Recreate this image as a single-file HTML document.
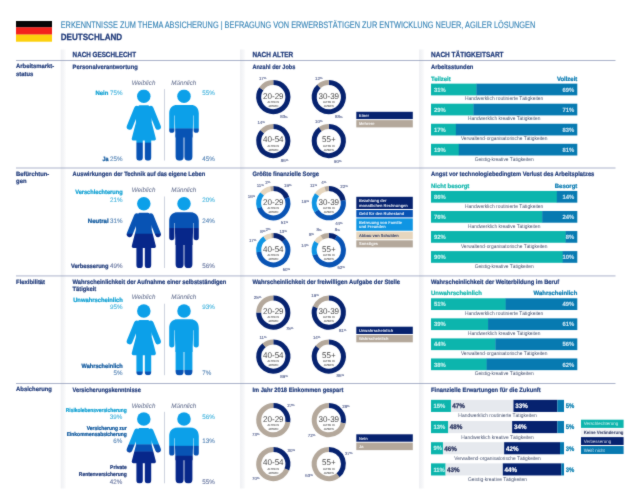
<!DOCTYPE html>
<html lang="de"><head><meta charset="utf-8"><title>Erkenntnisse zum Thema Absicherung – Deutschland</title>
<style>
html,body{margin:0;padding:0;background:#fff;}
body{width:630px;height:503px;overflow:hidden;}
svg{display:block;font-family:"Liberation Sans",sans-serif;text-rendering:geometricPrecision;}
</style></head><body>
<svg width="630" height="503" viewBox="0 0 630 503">
<defs>
<filter id="soft" x="0" y="0" width="630" height="503" filterUnits="userSpaceOnUse" color-interpolation-filters="sRGB"><feConvolveMatrix order="3" kernelMatrix="0.02 0.075 0.02 0.075 0.62 0.075 0.02 0.075 0.02" divisor="1" edgeMode="duplicate" preserveAlpha="true"/></filter>
<linearGradient id="vg" x1="0" x2="1" y1="0" y2="0"><stop offset="0" stop-color="#ffffff"/><stop offset="0.12" stop-color="#f0f1f4"/><stop offset="0.5" stop-color="#f4f5f7"/><stop offset="0.85" stop-color="#fbfbfc"/><stop offset="1" stop-color="#ffffff"/></linearGradient>
<mask id="mf" maskUnits="userSpaceOnUse" x="-20" y="-2" width="40" height="75">
 <g fill="#fff" stroke="#fff" stroke-linecap="round" stroke-linejoin="round">
  <circle cx="0" cy="6.75" r="6.75" stroke="none"/>
  <path d="M-4 17.4 L4 17.4 L6.2 24 L6.2 33 L10.4 49.3 L-10.4 49.3 L-6.2 33 L-6.2 24 Z" stroke-width="3.4"/>
  <path d="M-6.9 19.2 L-14.2 37.2 M6.9 19.2 L14.2 37.2" stroke-width="5.8" fill="none"/>
  <path d="M-4.2 50 L-4.2 67.9 M4.2 50 L4.2 67.9" stroke-width="6.4" fill="none"/>
 </g>
</mask>
<mask id="mm" maskUnits="userSpaceOnUse" x="-20" y="-2" width="40" height="75">
 <g fill="#fff" stroke="#fff" stroke-linecap="round" stroke-linejoin="round">
  <circle cx="0" cy="6.75" r="6.75" stroke="none"/>
  <path d="M-6.5 15.4 L6.5 15.4 C12 15.4 14.8 18.6 14.8 24 L14.8 40.6 A2.6 2.6 0 0 1 9.6 40.6 L9.6 26 L-9.6 26 L-9.6 40.6 A2.6 2.6 0 0 1 -14.8 40.6 L-14.8 24 C-14.8 18.6 -12 15.4 -6.5 15.4 Z" stroke="none"/>
  <path d="M-9.25 15.4 L9.25 15.4 L9.25 29 L8.5 47.9 L-8.5 47.9 L-9.25 29 Z" stroke="none"/>
  <path d="M-4.4 46 L-4.4 67.2 M4.4 46 L4.4 67.2" stroke-width="8.0" fill="none"/>
 </g>
 
</mask>
</defs>
<g filter="url(#soft)">
<rect x="0" y="0" width="630" height="503" fill="#ffffff"/>
<rect x="16.00" y="21.00" width="36.00" height="6.50" fill="#060606"/>
<rect x="16.00" y="27.30" width="36.00" height="7.40" fill="#f3221c"/>
<rect x="16.00" y="34.60" width="36.00" height="7.10" fill="#fdd00c"/>
<text x="60.70" y="28.30" font-size="9.30" fill="#3684b6" textLength="474.60" lengthAdjust="spacingAndGlyphs" stroke="#3684b6" stroke-width="0.12">ERKENNTNISSE ZUM THEMA ABSICHERUNG | BEFRAGUNG VON ERWERBSTÄTIGEN ZUR ENTWICKLUNG NEUER, AGILER LÖSUNGEN</text>
<text x="60.70" y="40.30" font-size="9.00" fill="#1f3a7a" font-weight="bold" textLength="61.50" lengthAdjust="spacingAndGlyphs" stroke="#1f3a7a" stroke-width="0.25">DEUTSCHLAND</text>
<rect x="60.2" y="49.5" width="6" height="439" fill="url(#vg)"/>
<rect x="239.7" y="49.5" width="6" height="439" fill="url(#vg)"/>
<rect x="418.8" y="49.5" width="6" height="439" fill="url(#vg)"/>
<rect x="16.00" y="60.01" width="599.50" height="0.68" fill="#8490b2"/>
<rect x="16.00" y="167.66" width="599.50" height="0.68" fill="#8490b2"/>
<rect x="16.00" y="275.61" width="599.50" height="0.68" fill="#8490b2"/>
<rect x="16.00" y="383.16" width="599.50" height="0.68" fill="#8490b2"/>
<text x="72.60" y="57.10" font-size="7.40" fill="#1f3a7a" font-weight="bold" textLength="63.40" lengthAdjust="spacingAndGlyphs" stroke="#1f3a7a" stroke-width="0.25">NACH GESCHLECHT</text>
<text x="252.40" y="57.10" font-size="7.40" fill="#1f3a7a" font-weight="bold" textLength="40.80" lengthAdjust="spacingAndGlyphs" stroke="#1f3a7a" stroke-width="0.25">NACH ALTER</text>
<text x="431.00" y="57.10" font-size="7.40" fill="#1f3a7a" font-weight="bold" textLength="72.60" lengthAdjust="spacingAndGlyphs" stroke="#1f3a7a" stroke-width="0.25">NACH TÄTIGKEITSART</text>
<text x="16.10" y="68.40" font-size="6.10" fill="#1f3a7a" font-weight="bold" textLength="38.10" lengthAdjust="spacingAndGlyphs" stroke="#1f3a7a" stroke-width="0.2">Arbeitsmarkt-</text>
<text x="16.10" y="75.60" font-size="6.10" fill="#1f3a7a" font-weight="bold" textLength="17.26" lengthAdjust="spacingAndGlyphs" stroke="#1f3a7a" stroke-width="0.2">status</text>
<text x="16.10" y="176.00" font-size="6.10" fill="#1f3a7a" font-weight="bold" textLength="33.20" lengthAdjust="spacingAndGlyphs" stroke="#1f3a7a" stroke-width="0.2">Befürchtun-</text>
<text x="16.10" y="183.20" font-size="6.10" fill="#1f3a7a" font-weight="bold" textLength="10.42" lengthAdjust="spacingAndGlyphs" stroke="#1f3a7a" stroke-width="0.2">gen</text>
<text x="16.10" y="283.60" font-size="6.10" fill="#1f3a7a" font-weight="bold" textLength="28.98" lengthAdjust="spacingAndGlyphs" stroke="#1f3a7a" stroke-width="0.2">Flexibilität</text>
<text x="16.10" y="391.30" font-size="6.10" fill="#1f3a7a" font-weight="bold" textLength="35.82" lengthAdjust="spacingAndGlyphs" stroke="#1f3a7a" stroke-width="0.2">Absicherung</text>
<text x="72.60" y="68.90" font-size="6.30" fill="#1f3a7a" font-weight="bold" textLength="65.20" lengthAdjust="spacingAndGlyphs" stroke="#1f3a7a" stroke-width="0.2">Personalverantwortung</text>
<text x="252.40" y="68.90" font-size="6.30" fill="#1f3a7a" font-weight="bold" textLength="42.90" lengthAdjust="spacingAndGlyphs" stroke="#1f3a7a" stroke-width="0.2">Anzahl der Jobs</text>
<text x="431.00" y="68.90" font-size="6.30" fill="#1f3a7a" font-weight="bold" textLength="42.40" lengthAdjust="spacingAndGlyphs" stroke="#1f3a7a" stroke-width="0.2">Arbeitsstunden</text>
<text x="72.60" y="176.30" font-size="6.30" fill="#1f3a7a" font-weight="bold" textLength="132.60" lengthAdjust="spacingAndGlyphs" stroke="#1f3a7a" stroke-width="0.2">Auswirkungen der Technik auf das eigene Leben</text>
<text x="252.40" y="176.30" font-size="6.30" fill="#1f3a7a" font-weight="bold" textLength="66.60" lengthAdjust="spacingAndGlyphs" stroke="#1f3a7a" stroke-width="0.2">Größte finanzielle Sorge</text>
<text x="431.00" y="176.30" font-size="6.30" fill="#1f3a7a" font-weight="bold" textLength="163.30" lengthAdjust="spacingAndGlyphs" stroke="#1f3a7a" stroke-width="0.2">Angst vor technologiebedingtem Verlust des Arbeitsplatzes</text>
<text x="72.60" y="283.80" font-size="6.30" fill="#1f3a7a" font-weight="bold" textLength="153.75" lengthAdjust="spacingAndGlyphs" stroke="#1f3a7a" stroke-width="0.2">Wahrscheinlichkeit der Aufnahme einer selbstständigen</text>
<text x="72.60" y="290.90" font-size="6.30" fill="#1f3a7a" font-weight="bold" textLength="23.70" lengthAdjust="spacingAndGlyphs" stroke="#1f3a7a" stroke-width="0.2">Tätigkeit</text>
<text x="252.40" y="283.80" font-size="6.30" fill="#1f3a7a" font-weight="bold" textLength="147.60" lengthAdjust="spacingAndGlyphs" stroke="#1f3a7a" stroke-width="0.2">Wahrscheinlichkeit der freiwilligen Aufgabe der Stelle</text>
<text x="431.00" y="283.80" font-size="6.30" fill="#1f3a7a" font-weight="bold" textLength="128.30" lengthAdjust="spacingAndGlyphs" stroke="#1f3a7a" stroke-width="0.2">Wahrscheinlichkeit der Weiterbildung im Beruf</text>
<text x="72.60" y="392.00" font-size="6.30" fill="#1f3a7a" font-weight="bold" textLength="68.20" lengthAdjust="spacingAndGlyphs" stroke="#1f3a7a" stroke-width="0.2">Versicherungskenntnisse</text>
<text x="252.40" y="392.00" font-size="6.30" fill="#1f3a7a" font-weight="bold" textLength="90.90" lengthAdjust="spacingAndGlyphs" stroke="#1f3a7a" stroke-width="0.2">Im Jahr 2018 Einkommen gespart</text>
<text x="431.00" y="392.00" font-size="6.30" fill="#1f3a7a" font-weight="bold" textLength="109.70" lengthAdjust="spacingAndGlyphs" stroke="#1f3a7a" stroke-width="0.2">Finanzielle Erwartungen für die Zukunft</text>
<text x="143.60" y="85.30" font-size="6.60" fill="#5a6688" font-style="italic" text-anchor="middle" textLength="23.58" lengthAdjust="spacingAndGlyphs">Weiblich</text>
<text x="183.80" y="85.30" font-size="6.60" fill="#5a6688" font-style="italic" text-anchor="middle" textLength="25.09" lengthAdjust="spacingAndGlyphs">Männlich</text>
<rect x="164.20" y="89.10" width="0.70" height="71.50" fill="#b9c0d2"/>
<g transform="translate(143.80,89.60)">
<g mask="url(#mf)">
<rect x="-18" y="-0.20" width="36" height="53.65" fill="#0ca0e9"/>
<rect x="-18" y="53.05" width="36" height="18.15" fill="#0853b4"/>
</g></g>
<g transform="translate(184.00,89.60)">
<g mask="url(#mm)">
<rect x="-18" y="-0.20" width="36" height="39.45" fill="#0ca0e9"/>
<rect x="-18" y="38.85" width="36" height="32.35" fill="#0853b4"/>
</g></g>
<text x="143.60" y="192.40" font-size="6.60" fill="#5a6688" font-style="italic" text-anchor="middle" textLength="23.58" lengthAdjust="spacingAndGlyphs">Weiblich</text>
<text x="183.80" y="192.40" font-size="6.60" fill="#5a6688" font-style="italic" text-anchor="middle" textLength="25.09" lengthAdjust="spacingAndGlyphs">Männlich</text>
<rect x="164.20" y="196.50" width="0.70" height="71.50" fill="#b9c0d2"/>
<g transform="translate(143.80,197.00)">
<g mask="url(#mf)">
<rect x="-18" y="-0.20" width="36" height="15.31" fill="#0ca0e9"/>
<rect x="-18" y="14.71" width="36" height="22.41" fill="#0853b4"/>
<rect x="-18" y="36.72" width="36" height="34.48" fill="#07278a"/>
</g></g>
<g transform="translate(184.00,197.00)">
<g mask="url(#mm)">
<rect x="-18" y="-0.20" width="36" height="14.60" fill="#0ca0e9"/>
<rect x="-18" y="14.00" width="36" height="17.44" fill="#0853b4"/>
<rect x="-18" y="31.04" width="36" height="40.16" fill="#07278a"/>
</g></g>
<text x="143.60" y="298.60" font-size="6.60" fill="#5a6688" font-style="italic" text-anchor="middle" textLength="23.58" lengthAdjust="spacingAndGlyphs">Weiblich</text>
<text x="183.80" y="298.60" font-size="6.60" fill="#5a6688" font-style="italic" text-anchor="middle" textLength="25.09" lengthAdjust="spacingAndGlyphs">Männlich</text>
<rect x="164.20" y="303.70" width="0.70" height="71.50" fill="#b9c0d2"/>
<g transform="translate(143.80,304.20)">
<g mask="url(#mf)">
<rect x="-18" y="-0.20" width="36" height="67.85" fill="#0ca0e9"/>
<rect x="-18" y="67.25" width="36" height="3.95" fill="#0853b4"/>
</g></g>
<g transform="translate(184.00,304.20)">
<g mask="url(#mm)">
<rect x="-18" y="-0.20" width="36" height="66.43" fill="#0ca0e9"/>
<rect x="-18" y="65.83" width="36" height="5.37" fill="#0853b4"/>
</g></g>
<text x="143.60" y="407.90" font-size="6.60" fill="#5a6688" font-style="italic" text-anchor="middle" textLength="23.58" lengthAdjust="spacingAndGlyphs">Weiblich</text>
<text x="183.80" y="407.90" font-size="6.60" fill="#5a6688" font-style="italic" text-anchor="middle" textLength="25.09" lengthAdjust="spacingAndGlyphs">Männlich</text>
<rect x="164.20" y="411.80" width="0.70" height="71.50" fill="#b9c0d2"/>
<g transform="translate(143.80,412.30)">
<g mask="url(#mf)">
<rect x="-18" y="-0.20" width="36" height="32.70" fill="#0ca0e9"/>
<rect x="-18" y="32.10" width="36" height="7.50" fill="#0853b4"/>
<rect x="-18" y="39.20" width="36" height="31.99" fill="#07278a"/>
</g></g>
<g transform="translate(184.00,412.30)">
<g mask="url(#mm)">
<rect x="-18" y="-0.20" width="36" height="34.12" fill="#0ca0e9"/>
<rect x="-18" y="33.52" width="36" height="10.34" fill="#0853b4"/>
<rect x="-18" y="43.46" width="36" height="27.73" fill="#07278a"/>
</g></g>
<text x="108.40" y="94.80" font-size="6.10" fill="#0c9fd2" font-weight="bold" text-anchor="end" textLength="12.90" lengthAdjust="spacingAndGlyphs" stroke="#0c9fd2" stroke-width="0.24">Nein</text>
<text x="122.50" y="94.75" font-size="6.40" fill="#42b3dd" text-anchor="end" textLength="12.51" lengthAdjust="spacingAndGlyphs" stroke="#42b3dd" stroke-width="0.1">75%</text>
<text x="202.20" y="94.75" font-size="6.40" fill="#42b3dd" textLength="12.51" lengthAdjust="spacingAndGlyphs" stroke="#42b3dd" stroke-width="0.1">55%</text>
<text x="108.40" y="160.80" font-size="6.10" fill="#0a559c" font-weight="bold" text-anchor="end" textLength="6.00" lengthAdjust="spacingAndGlyphs" stroke="#0a559c" stroke-width="0.24">Ja</text>
<text x="122.50" y="160.75" font-size="6.40" fill="#5685b6" text-anchor="end" textLength="12.51" lengthAdjust="spacingAndGlyphs" stroke="#5685b6" stroke-width="0.1">25%</text>
<text x="202.20" y="160.75" font-size="6.40" fill="#5685b6" textLength="12.51" lengthAdjust="spacingAndGlyphs" stroke="#5685b6" stroke-width="0.1">45%</text>
<text x="122.60" y="194.40" font-size="6.10" fill="#0c9fd2" font-weight="bold" text-anchor="end" textLength="47.40" lengthAdjust="spacingAndGlyphs" stroke="#0c9fd2" stroke-width="0.24">Verschlechterung</text>
<text x="122.50" y="201.95" font-size="6.40" fill="#42b3dd" text-anchor="end" textLength="12.51" lengthAdjust="spacingAndGlyphs" stroke="#42b3dd" stroke-width="0.1">21%</text>
<text x="202.20" y="201.95" font-size="6.40" fill="#42b3dd" textLength="12.51" lengthAdjust="spacingAndGlyphs" stroke="#42b3dd" stroke-width="0.1">20%</text>
<text x="108.60" y="223.00" font-size="6.10" fill="#0a559c" font-weight="bold" text-anchor="end" textLength="20.80" lengthAdjust="spacingAndGlyphs" stroke="#0a559c" stroke-width="0.24">Neutral</text>
<text x="122.50" y="222.95" font-size="6.40" fill="#5685b6" text-anchor="end" textLength="12.51" lengthAdjust="spacingAndGlyphs" stroke="#5685b6" stroke-width="0.1">31%</text>
<text x="202.20" y="222.95" font-size="6.40" fill="#5685b6" textLength="12.51" lengthAdjust="spacingAndGlyphs" stroke="#5685b6" stroke-width="0.1">24%</text>
<text x="108.60" y="268.10" font-size="6.10" fill="#1f3a7a" font-weight="bold" text-anchor="end" textLength="37.70" lengthAdjust="spacingAndGlyphs" stroke="#1f3a7a" stroke-width="0.24">Verbesserung</text>
<text x="122.50" y="268.05" font-size="6.40" fill="#66759f" text-anchor="end" textLength="12.51" lengthAdjust="spacingAndGlyphs" stroke="#66759f" stroke-width="0.1">49%</text>
<text x="202.20" y="268.05" font-size="6.40" fill="#66759f" textLength="12.51" lengthAdjust="spacingAndGlyphs" stroke="#66759f" stroke-width="0.1">56%</text>
<text x="122.80" y="302.10" font-size="6.10" fill="#0c9fd2" font-weight="bold" text-anchor="end" textLength="49.60" lengthAdjust="spacingAndGlyphs" stroke="#0c9fd2" stroke-width="0.24">Unwahrscheinlich</text>
<text x="122.50" y="308.95" font-size="6.40" fill="#42b3dd" text-anchor="end" textLength="12.51" lengthAdjust="spacingAndGlyphs" stroke="#42b3dd" stroke-width="0.1">95%</text>
<text x="202.20" y="308.95" font-size="6.40" fill="#42b3dd" textLength="12.51" lengthAdjust="spacingAndGlyphs" stroke="#42b3dd" stroke-width="0.1">93%</text>
<text x="122.80" y="368.20" font-size="6.10" fill="#0a559c" font-weight="bold" text-anchor="end" textLength="41.20" lengthAdjust="spacingAndGlyphs" stroke="#0a559c" stroke-width="0.24">Wahrscheinlich</text>
<text x="122.50" y="374.75" font-size="6.40" fill="#5685b6" text-anchor="end" textLength="9.03" lengthAdjust="spacingAndGlyphs" stroke="#5685b6" stroke-width="0.1">5%</text>
<text x="202.20" y="374.75" font-size="6.40" fill="#5685b6" textLength="9.03" lengthAdjust="spacingAndGlyphs" stroke="#5685b6" stroke-width="0.1">7%</text>
<text x="126.80" y="411.90" font-size="5.60" fill="#0c9fd2" font-weight="bold" text-anchor="end" textLength="61.00" lengthAdjust="spacingAndGlyphs" stroke="#0c9fd2" stroke-width="0.24">Risikolebensversicherung</text>
<text x="122.30" y="418.65" font-size="6.40" fill="#42b3dd" text-anchor="end" textLength="12.51" lengthAdjust="spacingAndGlyphs" stroke="#42b3dd" stroke-width="0.1">39%</text>
<text x="202.20" y="418.65" font-size="6.40" fill="#42b3dd" textLength="12.51" lengthAdjust="spacingAndGlyphs" stroke="#42b3dd" stroke-width="0.1">56%</text>
<text x="126.80" y="429.50" font-size="5.60" fill="#0a559c" font-weight="bold" text-anchor="end" textLength="40.10" lengthAdjust="spacingAndGlyphs" stroke="#0a559c" stroke-width="0.24">Versicherung zur</text>
<text x="126.80" y="435.90" font-size="5.60" fill="#0a559c" font-weight="bold" text-anchor="end" textLength="60.10" lengthAdjust="spacingAndGlyphs" stroke="#0a559c" stroke-width="0.24">Einkommensabsicherung</text>
<text x="122.30" y="442.65" font-size="6.40" fill="#5685b6" text-anchor="end" textLength="9.03" lengthAdjust="spacingAndGlyphs" stroke="#5685b6" stroke-width="0.1">6%</text>
<text x="202.20" y="442.65" font-size="6.40" fill="#5685b6" textLength="12.51" lengthAdjust="spacingAndGlyphs" stroke="#5685b6" stroke-width="0.1">13%</text>
<text x="126.80" y="469.20" font-size="5.60" fill="#1f3a7a" font-weight="bold" text-anchor="end" textLength="16.70" lengthAdjust="spacingAndGlyphs" stroke="#1f3a7a" stroke-width="0.24">Private</text>
<text x="126.80" y="475.60" font-size="5.60" fill="#1f3a7a" font-weight="bold" text-anchor="end" textLength="48.00" lengthAdjust="spacingAndGlyphs" stroke="#1f3a7a" stroke-width="0.24">Rentenversicherung</text>
<text x="122.30" y="483.95" font-size="6.40" fill="#66759f" text-anchor="end" textLength="12.51" lengthAdjust="spacingAndGlyphs" stroke="#66759f" stroke-width="0.1">42%</text>
<text x="202.20" y="483.95" font-size="6.40" fill="#66759f" textLength="12.51" lengthAdjust="spacingAndGlyphs" stroke="#66759f" stroke-width="0.1">55%</text>
<path d="M273.30 82.50A14.60 14.60 0 1 1 261.33 88.74" fill="none" stroke="#06226f" stroke-width="5.00"/>
<path d="M261.22 88.89A14.60 14.60 0 0 1 273.30 82.50" fill="none" stroke="#b4a89b" stroke-width="5.00"/>
<text x="273.30" y="98.50" font-size="8.30" fill="#474747" text-anchor="middle" textLength="20.60" lengthAdjust="spacingAndGlyphs">20-29</text>
<text x="273.30" y="102.90" font-size="2.90" fill="#4c4c4c" text-anchor="middle" textLength="11.40" lengthAdjust="spacingAndGlyphs" stroke="#4c4c4c" stroke-width="0.06">ALTER IN</text>
<text x="273.30" y="106.60" font-size="2.90" fill="#4c4c4c" text-anchor="middle" textLength="10.00" lengthAdjust="spacingAndGlyphs" stroke="#4c4c4c" stroke-width="0.06">JAHREN</text>
<text x="258.93" y="79.80" font-size="4.4" fill="#505d8c" stroke="#505d8c" stroke-width="0.1">17<tspan font-size="2.9" dy="-0.9">%</tspan></text>
<text x="280.23" y="118.40" font-size="4.4" fill="#505d8c" stroke="#505d8c" stroke-width="0.1">83<tspan font-size="2.9" dy="-0.9">%</tspan></text>
<path d="M328.80 82.50A14.60 14.60 0 1 1 318.94 86.33" fill="none" stroke="#06226f" stroke-width="5.00"/>
<path d="M318.81 86.46A14.60 14.60 0 0 1 328.80 82.50" fill="none" stroke="#b4a89b" stroke-width="5.00"/>
<text x="328.80" y="98.50" font-size="8.30" fill="#474747" text-anchor="middle" textLength="20.60" lengthAdjust="spacingAndGlyphs">30-39</text>
<text x="328.80" y="102.90" font-size="2.90" fill="#4c4c4c" text-anchor="middle" textLength="11.40" lengthAdjust="spacingAndGlyphs" stroke="#4c4c4c" stroke-width="0.06">ALTER IN</text>
<text x="328.80" y="106.60" font-size="2.90" fill="#4c4c4c" text-anchor="middle" textLength="10.00" lengthAdjust="spacingAndGlyphs" stroke="#4c4c4c" stroke-width="0.06">JAHREN</text>
<text x="315.03" y="79.50" font-size="4.4" fill="#505d8c" stroke="#505d8c" stroke-width="0.1">12<tspan font-size="2.9" dy="-0.9">%</tspan></text>
<text x="335.03" y="118.40" font-size="4.4" fill="#505d8c" stroke="#505d8c" stroke-width="0.1">88<tspan font-size="2.9" dy="-0.9">%</tspan></text>
<path d="M273.30 126.40A14.60 14.60 0 1 1 262.17 131.55" fill="none" stroke="#06226f" stroke-width="5.00"/>
<path d="M262.05 131.69A14.60 14.60 0 0 1 273.30 126.40" fill="none" stroke="#b4a89b" stroke-width="5.00"/>
<text x="273.30" y="142.40" font-size="8.30" fill="#474747" text-anchor="middle" textLength="20.60" lengthAdjust="spacingAndGlyphs">40-54</text>
<text x="273.30" y="146.80" font-size="2.90" fill="#4c4c4c" text-anchor="middle" textLength="11.40" lengthAdjust="spacingAndGlyphs" stroke="#4c4c4c" stroke-width="0.06">ALTER IN</text>
<text x="273.30" y="150.50" font-size="2.90" fill="#4c4c4c" text-anchor="middle" textLength="10.00" lengthAdjust="spacingAndGlyphs" stroke="#4c4c4c" stroke-width="0.06">JAHREN</text>
<text x="257.43" y="123.50" font-size="4.4" fill="#505d8c" stroke="#505d8c" stroke-width="0.1">14<tspan font-size="2.9" dy="-0.9">%</tspan></text>
<text x="280.83" y="162.20" font-size="4.4" fill="#505d8c" stroke="#505d8c" stroke-width="0.1">86<tspan font-size="2.9" dy="-0.9">%</tspan></text>
<path d="M328.80 126.40A14.60 14.60 0 1 1 320.37 129.08" fill="none" stroke="#06226f" stroke-width="5.00"/>
<path d="M320.22 129.19A14.60 14.60 0 0 1 328.80 126.40" fill="none" stroke="#b4a89b" stroke-width="5.00"/>
<text x="328.80" y="142.40" font-size="8.30" fill="#474747" text-anchor="middle" textLength="13.60" lengthAdjust="spacingAndGlyphs">55+</text>
<text x="328.80" y="146.80" font-size="2.90" fill="#4c4c4c" text-anchor="middle" textLength="11.40" lengthAdjust="spacingAndGlyphs" stroke="#4c4c4c" stroke-width="0.06">ALTER IN</text>
<text x="328.80" y="150.50" font-size="2.90" fill="#4c4c4c" text-anchor="middle" textLength="10.00" lengthAdjust="spacingAndGlyphs" stroke="#4c4c4c" stroke-width="0.06">JAHREN</text>
<text x="315.03" y="122.70" font-size="4.4" fill="#505d8c" stroke="#505d8c" stroke-width="0.1">10<tspan font-size="2.9" dy="-0.9">%</tspan></text>
<text x="334.03" y="162.50" font-size="4.4" fill="#505d8c" stroke="#505d8c" stroke-width="0.1">90<tspan font-size="2.9" dy="-0.9">%</tspan></text>
<path d="M273.30 188.60A14.60 14.60 0 0 1 286.94 198.00" fill="none" stroke="#06226f" stroke-width="5.00"/>
<path d="M286.87 197.83A14.60 14.60 0 1 1 259.36 207.54" fill="none" stroke="#0853b4" stroke-width="5.00"/>
<path d="M259.41 207.71A14.60 14.60 0 0 1 262.17 193.75" fill="none" stroke="#0f95e3" stroke-width="5.00"/>
<path d="M262.05 193.89A14.60 14.60 0 0 1 270.74 188.83" fill="none" stroke="#e6d6be" stroke-width="5.00"/>
<path d="M270.56 188.86A14.60 14.60 0 0 1 273.30 188.60" fill="none" stroke="#b4a89b" stroke-width="5.00"/>
<text x="273.30" y="204.60" font-size="8.30" fill="#474747" text-anchor="middle" textLength="20.60" lengthAdjust="spacingAndGlyphs">20-29</text>
<text x="273.30" y="209.00" font-size="2.90" fill="#4c4c4c" text-anchor="middle" textLength="11.40" lengthAdjust="spacingAndGlyphs" stroke="#4c4c4c" stroke-width="0.06">ALTER IN</text>
<text x="273.30" y="212.70" font-size="2.90" fill="#4c4c4c" text-anchor="middle" textLength="10.00" lengthAdjust="spacingAndGlyphs" stroke="#4c4c4c" stroke-width="0.06">JAHREN</text>
<text x="284.03" y="187.10" font-size="4.4" fill="#505d8c" stroke="#505d8c" stroke-width="0.1">19<tspan font-size="2.9" dy="-0.9">%</tspan></text>
<text x="280.73" y="224.30" font-size="4.4" fill="#505d8c" stroke="#505d8c" stroke-width="0.1">51<tspan font-size="2.9" dy="-0.9">%</tspan></text>
<text x="247.73" y="198.20" font-size="4.4" fill="#505d8c" stroke="#505d8c" stroke-width="0.1">16<tspan font-size="2.9" dy="-0.9">%</tspan></text>
<text x="256.68" y="186.80" font-size="4.4" fill="#505d8c" stroke="#505d8c" stroke-width="0.1">11<tspan font-size="2.9" dy="-0.9">%</tspan></text>
<text x="265.22" y="184.30" font-size="4.4" fill="#505d8c" stroke="#505d8c" stroke-width="0.1">2<tspan font-size="2.9" dy="-0.9">%</tspan></text>
<path d="M328.80 188.60A14.60 14.60 0 0 1 343.17 200.64" fill="none" stroke="#06226f" stroke-width="5.00"/>
<path d="M343.14 200.46A14.60 14.60 0 0 1 316.38 210.87" fill="none" stroke="#0853b4" stroke-width="5.00"/>
<path d="M316.47 211.02A14.60 14.60 0 0 1 317.10 194.47" fill="none" stroke="#0f95e3" stroke-width="5.00"/>
<path d="M316.99 194.62A14.60 14.60 0 0 1 325.35 189.01" fill="none" stroke="#e6d6be" stroke-width="5.00"/>
<path d="M325.17 189.06A14.60 14.60 0 0 1 328.80 188.60" fill="none" stroke="#b4a89b" stroke-width="5.00"/>
<text x="328.80" y="204.60" font-size="8.30" fill="#474747" text-anchor="middle" textLength="20.60" lengthAdjust="spacingAndGlyphs">30-39</text>
<text x="328.80" y="209.00" font-size="2.90" fill="#4c4c4c" text-anchor="middle" textLength="11.40" lengthAdjust="spacingAndGlyphs" stroke="#4c4c4c" stroke-width="0.06">ALTER IN</text>
<text x="328.80" y="212.70" font-size="2.90" fill="#4c4c4c" text-anchor="middle" textLength="10.00" lengthAdjust="spacingAndGlyphs" stroke="#4c4c4c" stroke-width="0.06">JAHREN</text>
<text x="340.33" y="188.10" font-size="4.4" fill="#505d8c" stroke="#505d8c" stroke-width="0.1">22<tspan font-size="2.9" dy="-0.9">%</tspan></text>
<text x="335.13" y="224.90" font-size="4.4" fill="#505d8c" stroke="#505d8c" stroke-width="0.1">44<tspan font-size="2.9" dy="-0.9">%</tspan></text>
<text x="301.53" y="203.00" font-size="4.4" fill="#505d8c" stroke="#505d8c" stroke-width="0.1">19<tspan font-size="2.9" dy="-0.9">%</tspan></text>
<text x="309.88" y="187.10" font-size="4.4" fill="#505d8c" stroke="#505d8c" stroke-width="0.1">11<tspan font-size="2.9" dy="-0.9">%</tspan></text>
<text x="321.32" y="183.70" font-size="4.4" fill="#505d8c" stroke="#505d8c" stroke-width="0.1">4<tspan font-size="2.9" dy="-0.9">%</tspan></text>
<path d="M273.30 235.60A14.60 14.60 0 0 1 284.07 240.34" fill="none" stroke="#06226f" stroke-width="5.00"/>
<path d="M283.94 240.21A14.60 14.60 0 1 1 258.79 251.85" fill="none" stroke="#0853b4" stroke-width="5.00"/>
<path d="M258.82 252.03A14.60 14.60 0 0 1 264.87 238.28" fill="none" stroke="#0f95e3" stroke-width="5.00"/>
<path d="M264.72 238.39A14.60 14.60 0 0 1 271.65 235.69" fill="none" stroke="#e6d6be" stroke-width="5.00"/>
<path d="M271.47 235.72A14.60 14.60 0 0 1 273.30 235.60" fill="none" stroke="#b4a89b" stroke-width="5.00"/>
<text x="273.30" y="251.60" font-size="8.30" fill="#474747" text-anchor="middle" textLength="20.60" lengthAdjust="spacingAndGlyphs">40-54</text>
<text x="273.30" y="256.00" font-size="2.90" fill="#4c4c4c" text-anchor="middle" textLength="11.40" lengthAdjust="spacingAndGlyphs" stroke="#4c4c4c" stroke-width="0.06">ALTER IN</text>
<text x="273.30" y="259.70" font-size="2.90" fill="#4c4c4c" text-anchor="middle" textLength="10.00" lengthAdjust="spacingAndGlyphs" stroke="#4c4c4c" stroke-width="0.06">JAHREN</text>
<text x="279.43" y="232.50" font-size="4.4" fill="#505d8c" stroke="#505d8c" stroke-width="0.1">13<tspan font-size="2.9" dy="-0.9">%</tspan></text>
<text x="282.63" y="270.70" font-size="4.4" fill="#505d8c" stroke="#505d8c" stroke-width="0.1">60<tspan font-size="2.9" dy="-0.9">%</tspan></text>
<text x="248.93" y="242.10" font-size="4.4" fill="#505d8c" stroke="#505d8c" stroke-width="0.1">17<tspan font-size="2.9" dy="-0.9">%</tspan></text>
<text x="260.32" y="232.50" font-size="4.4" fill="#505d8c" stroke="#505d8c" stroke-width="0.1">8<tspan font-size="2.9" dy="-0.9">%</tspan></text>
<text x="265.62" y="231.00" font-size="4.4" fill="#505d8c" stroke="#505d8c" stroke-width="0.1">2<tspan font-size="2.9" dy="-0.9">%</tspan></text>
<path d="M328.80 235.60A14.60 14.60 0 0 1 335.99 237.50" fill="none" stroke="#06226f" stroke-width="5.00"/>
<path d="M335.83 237.41A14.60 14.60 0 1 1 314.86 254.54" fill="none" stroke="#0853b4" stroke-width="5.00"/>
<path d="M314.91 254.71A14.60 14.60 0 0 1 316.57 242.22" fill="none" stroke="#0f95e3" stroke-width="5.00"/>
<path d="M316.47 242.38A14.60 14.60 0 0 1 321.93 237.32" fill="none" stroke="#e6d6be" stroke-width="5.00"/>
<path d="M321.77 237.41A14.60 14.60 0 0 1 328.80 235.60" fill="none" stroke="#b4a89b" stroke-width="5.00"/>
<text x="328.80" y="251.60" font-size="8.30" fill="#474747" text-anchor="middle" textLength="13.60" lengthAdjust="spacingAndGlyphs">55+</text>
<text x="328.80" y="256.00" font-size="2.90" fill="#4c4c4c" text-anchor="middle" textLength="11.40" lengthAdjust="spacingAndGlyphs" stroke="#4c4c4c" stroke-width="0.06">ALTER IN</text>
<text x="328.80" y="259.70" font-size="2.90" fill="#4c4c4c" text-anchor="middle" textLength="10.00" lengthAdjust="spacingAndGlyphs" stroke="#4c4c4c" stroke-width="0.06">JAHREN</text>
<text x="334.72" y="231.40" font-size="4.4" fill="#505d8c" stroke="#505d8c" stroke-width="0.1">8<tspan font-size="2.9" dy="-0.9">%</tspan></text>
<text x="337.43" y="269.20" font-size="4.4" fill="#505d8c" stroke="#505d8c" stroke-width="0.1">62<tspan font-size="2.9" dy="-0.9">%</tspan></text>
<text x="301.13" y="246.70" font-size="4.4" fill="#505d8c" stroke="#505d8c" stroke-width="0.1">14<tspan font-size="2.9" dy="-0.9">%</tspan></text>
<text x="308.92" y="235.80" font-size="4.4" fill="#505d8c" stroke="#505d8c" stroke-width="0.1">8<tspan font-size="2.9" dy="-0.9">%</tspan></text>
<text x="316.62" y="231.40" font-size="4.4" fill="#505d8c" stroke="#505d8c" stroke-width="0.1">8<tspan font-size="2.9" dy="-0.9">%</tspan></text>
<path d="M273.30 298.00A14.60 14.60 0 1 1 258.70 312.42" fill="none" stroke="#06226f" stroke-width="5.00"/>
<path d="M258.70 312.60A14.60 14.60 0 0 1 273.30 298.00" fill="none" stroke="#b4a89b" stroke-width="5.00"/>
<text x="273.30" y="314.00" font-size="8.30" fill="#474747" text-anchor="middle" textLength="20.60" lengthAdjust="spacingAndGlyphs">20-29</text>
<text x="273.30" y="318.40" font-size="2.90" fill="#4c4c4c" text-anchor="middle" textLength="11.40" lengthAdjust="spacingAndGlyphs" stroke="#4c4c4c" stroke-width="0.06">ALTER IN</text>
<text x="273.30" y="322.10" font-size="2.90" fill="#4c4c4c" text-anchor="middle" textLength="10.00" lengthAdjust="spacingAndGlyphs" stroke="#4c4c4c" stroke-width="0.06">JAHREN</text>
<text x="253.83" y="298.50" font-size="4.4" fill="#505d8c" stroke="#505d8c" stroke-width="0.1">25<tspan font-size="2.9" dy="-0.9">%</tspan></text>
<text x="285.93" y="330.00" font-size="4.4" fill="#505d8c" stroke="#505d8c" stroke-width="0.1">75<tspan font-size="2.9" dy="-0.9">%</tspan></text>
<path d="M328.80 298.00A14.60 14.60 0 1 1 315.29 307.06" fill="none" stroke="#06226f" stroke-width="5.00"/>
<path d="M315.23 307.23A14.60 14.60 0 0 1 328.80 298.00" fill="none" stroke="#b4a89b" stroke-width="5.00"/>
<text x="328.80" y="314.00" font-size="8.30" fill="#474747" text-anchor="middle" textLength="20.60" lengthAdjust="spacingAndGlyphs">30-39</text>
<text x="328.80" y="318.40" font-size="2.90" fill="#4c4c4c" text-anchor="middle" textLength="11.40" lengthAdjust="spacingAndGlyphs" stroke="#4c4c4c" stroke-width="0.06">ALTER IN</text>
<text x="328.80" y="322.10" font-size="2.90" fill="#4c4c4c" text-anchor="middle" textLength="10.00" lengthAdjust="spacingAndGlyphs" stroke="#4c4c4c" stroke-width="0.06">JAHREN</text>
<text x="311.33" y="296.50" font-size="4.4" fill="#505d8c" stroke="#505d8c" stroke-width="0.1">19<tspan font-size="2.9" dy="-0.9">%</tspan></text>
<text x="338.93" y="331.90" font-size="4.4" fill="#505d8c" stroke="#505d8c" stroke-width="0.1">81<tspan font-size="2.9" dy="-0.9">%</tspan></text>
<path d="M273.30 342.00A14.60 14.60 0 1 1 264.14 345.23" fill="none" stroke="#06226f" stroke-width="5.00"/>
<path d="M263.99 345.35A14.60 14.60 0 0 1 273.30 342.00" fill="none" stroke="#b4a89b" stroke-width="5.00"/>
<text x="273.30" y="358.00" font-size="8.30" fill="#474747" text-anchor="middle" textLength="20.60" lengthAdjust="spacingAndGlyphs">40-54</text>
<text x="273.30" y="362.40" font-size="2.90" fill="#4c4c4c" text-anchor="middle" textLength="11.40" lengthAdjust="spacingAndGlyphs" stroke="#4c4c4c" stroke-width="0.06">ALTER IN</text>
<text x="273.30" y="366.10" font-size="2.90" fill="#4c4c4c" text-anchor="middle" textLength="10.00" lengthAdjust="spacingAndGlyphs" stroke="#4c4c4c" stroke-width="0.06">JAHREN</text>
<text x="259.48" y="338.70" font-size="4.4" fill="#505d8c" stroke="#505d8c" stroke-width="0.1">11<tspan font-size="2.9" dy="-0.9">%</tspan></text>
<text x="280.33" y="377.90" font-size="4.4" fill="#505d8c" stroke="#505d8c" stroke-width="0.1">89<tspan font-size="2.9" dy="-0.9">%</tspan></text>
<path d="M328.80 342.00A14.60 14.60 0 1 1 317.67 347.15" fill="none" stroke="#06226f" stroke-width="5.00"/>
<path d="M317.55 347.29A14.60 14.60 0 0 1 328.80 342.00" fill="none" stroke="#b4a89b" stroke-width="5.00"/>
<text x="328.80" y="358.00" font-size="8.30" fill="#474747" text-anchor="middle" textLength="13.60" lengthAdjust="spacingAndGlyphs">55+</text>
<text x="328.80" y="362.40" font-size="2.90" fill="#4c4c4c" text-anchor="middle" textLength="11.40" lengthAdjust="spacingAndGlyphs" stroke="#4c4c4c" stroke-width="0.06">ALTER IN</text>
<text x="328.80" y="366.10" font-size="2.90" fill="#4c4c4c" text-anchor="middle" textLength="10.00" lengthAdjust="spacingAndGlyphs" stroke="#4c4c4c" stroke-width="0.06">JAHREN</text>
<text x="312.93" y="338.70" font-size="4.4" fill="#505d8c" stroke="#505d8c" stroke-width="0.1">14<tspan font-size="2.9" dy="-0.9">%</tspan></text>
<text x="336.53" y="377.10" font-size="4.4" fill="#505d8c" stroke="#505d8c" stroke-width="0.1">86<tspan font-size="2.9" dy="-0.9">%</tspan></text>
<path d="M273.30 405.60A14.60 14.60 0 0 1 287.76 422.21" fill="none" stroke="#06226f" stroke-width="5.00"/>
<path d="M287.78 422.03A14.60 14.60 0 1 1 273.30 405.60" fill="none" stroke="#b4a89b" stroke-width="5.00"/>
<text x="273.30" y="421.60" font-size="8.30" fill="#474747" text-anchor="middle" textLength="20.60" lengthAdjust="spacingAndGlyphs">20-29</text>
<text x="273.30" y="426.00" font-size="2.90" fill="#4c4c4c" text-anchor="middle" textLength="11.40" lengthAdjust="spacingAndGlyphs" stroke="#4c4c4c" stroke-width="0.06">ALTER IN</text>
<text x="273.30" y="429.70" font-size="2.90" fill="#4c4c4c" text-anchor="middle" textLength="10.00" lengthAdjust="spacingAndGlyphs" stroke="#4c4c4c" stroke-width="0.06">JAHREN</text>
<text x="287.23" y="407.30" font-size="4.4" fill="#505d8c" stroke="#505d8c" stroke-width="0.1">27<tspan font-size="2.9" dy="-0.9">%</tspan></text>
<text x="252.03" y="436.30" font-size="4.4" fill="#505d8c" stroke="#505d8c" stroke-width="0.1">73<tspan font-size="2.9" dy="-0.9">%</tspan></text>
<path d="M328.80 405.60A14.60 14.60 0 0 1 343.11 423.12" fill="none" stroke="#06226f" stroke-width="5.00"/>
<path d="M343.14 422.94A14.60 14.60 0 1 1 328.80 405.60" fill="none" stroke="#b4a89b" stroke-width="5.00"/>
<text x="328.80" y="421.60" font-size="8.30" fill="#474747" text-anchor="middle" textLength="20.60" lengthAdjust="spacingAndGlyphs">30-39</text>
<text x="328.80" y="426.00" font-size="2.90" fill="#4c4c4c" text-anchor="middle" textLength="11.40" lengthAdjust="spacingAndGlyphs" stroke="#4c4c4c" stroke-width="0.06">ALTER IN</text>
<text x="328.80" y="429.70" font-size="2.90" fill="#4c4c4c" text-anchor="middle" textLength="10.00" lengthAdjust="spacingAndGlyphs" stroke="#4c4c4c" stroke-width="0.06">JAHREN</text>
<text x="342.23" y="407.90" font-size="4.4" fill="#505d8c" stroke="#505d8c" stroke-width="0.1">28<tspan font-size="2.9" dy="-0.9">%</tspan></text>
<text x="307.83" y="436.90" font-size="4.4" fill="#505d8c" stroke="#505d8c" stroke-width="0.1">72<tspan font-size="2.9" dy="-0.9">%</tspan></text>
<path d="M273.30 449.40A14.60 14.60 0 0 1 286.81 469.54" fill="none" stroke="#06226f" stroke-width="5.00"/>
<path d="M286.87 469.37A14.60 14.60 0 1 1 273.30 449.40" fill="none" stroke="#b4a89b" stroke-width="5.00"/>
<text x="273.30" y="465.40" font-size="8.30" fill="#474747" text-anchor="middle" textLength="20.60" lengthAdjust="spacingAndGlyphs">40-54</text>
<text x="273.30" y="469.80" font-size="2.90" fill="#4c4c4c" text-anchor="middle" textLength="11.40" lengthAdjust="spacingAndGlyphs" stroke="#4c4c4c" stroke-width="0.06">ALTER IN</text>
<text x="273.30" y="473.50" font-size="2.90" fill="#4c4c4c" text-anchor="middle" textLength="10.00" lengthAdjust="spacingAndGlyphs" stroke="#4c4c4c" stroke-width="0.06">JAHREN</text>
<text x="287.53" y="451.80" font-size="4.4" fill="#505d8c" stroke="#505d8c" stroke-width="0.1">30<tspan font-size="2.9" dy="-0.9">%</tspan></text>
<text x="252.03" y="479.80" font-size="4.4" fill="#505d8c" stroke="#505d8c" stroke-width="0.1">70<tspan font-size="2.9" dy="-0.9">%</tspan></text>
<path d="M328.80 449.40A14.60 14.60 0 0 1 337.96 475.37" fill="none" stroke="#06226f" stroke-width="5.00"/>
<path d="M338.11 475.25A14.60 14.60 0 1 1 328.80 449.40" fill="none" stroke="#b4a89b" stroke-width="5.00"/>
<text x="328.80" y="465.40" font-size="8.30" fill="#474747" text-anchor="middle" textLength="13.60" lengthAdjust="spacingAndGlyphs">55+</text>
<text x="328.80" y="469.80" font-size="2.90" fill="#4c4c4c" text-anchor="middle" textLength="11.40" lengthAdjust="spacingAndGlyphs" stroke="#4c4c4c" stroke-width="0.06">ALTER IN</text>
<text x="328.80" y="473.50" font-size="2.90" fill="#4c4c4c" text-anchor="middle" textLength="10.00" lengthAdjust="spacingAndGlyphs" stroke="#4c4c4c" stroke-width="0.06">JAHREN</text>
<text x="345.03" y="454.60" font-size="4.4" fill="#505d8c" stroke="#505d8c" stroke-width="0.1">37<tspan font-size="2.9" dy="-0.9">%</tspan></text>
<text x="305.33" y="477.10" font-size="4.4" fill="#505d8c" stroke="#505d8c" stroke-width="0.1">63<tspan font-size="2.9" dy="-0.9">%</tspan></text>
<rect x="356.30" y="111.80" width="56.50" height="7.30" fill="#06226f"/>
<text x="359.00" y="116.95" font-size="4.20" fill="#fff" font-weight="bold" textLength="9.98" lengthAdjust="spacingAndGlyphs" opacity="0.92">Einer</text>
<rect x="356.30" y="120.10" width="56.50" height="7.30" fill="#b4a89b"/>
<text x="359.00" y="125.25" font-size="4.20" fill="#fff" font-weight="bold" textLength="15.52" lengthAdjust="spacingAndGlyphs" opacity="0.92">Mehrere</text>
<rect x="356.30" y="196.80" width="56.50" height="12.20" fill="#06226f"/>
<text x="359.00" y="202.05" font-size="4.20" fill="#fff" font-weight="bold" textLength="27.49" lengthAdjust="spacingAndGlyphs" opacity="0.92">Bezahlung der</text>
<text x="359.00" y="206.75" font-size="4.20" fill="#fff" font-weight="bold" textLength="48.77" lengthAdjust="spacingAndGlyphs" opacity="0.92">monatlichen Rechnungen</text>
<rect x="356.30" y="210.00" width="56.50" height="7.40" fill="#0853b4"/>
<text x="359.00" y="215.20" font-size="4.20" fill="#fff" font-weight="bold" textLength="45.22" lengthAdjust="spacingAndGlyphs" opacity="0.92">Geld für den Ruhestand</text>
<rect x="356.30" y="218.40" width="56.50" height="12.30" fill="#0f95e3"/>
<text x="359.00" y="223.70" font-size="4.20" fill="#fff" font-weight="bold" textLength="43.01" lengthAdjust="spacingAndGlyphs" opacity="0.92">Betreuung von Familie</text>
<text x="359.00" y="228.40" font-size="4.20" fill="#fff" font-weight="bold" textLength="26.60" lengthAdjust="spacingAndGlyphs" opacity="0.92">und Freunden</text>
<rect x="356.30" y="231.70" width="56.50" height="7.60" fill="#e6d6be"/>
<text x="359.00" y="237.00" font-size="4.20" fill="#2a3560" font-weight="bold" textLength="39.68" lengthAdjust="spacingAndGlyphs">Abbau von Schulden</text>
<rect x="356.30" y="240.30" width="56.50" height="7.10" fill="#b4a89b"/>
<text x="359.00" y="245.35" font-size="4.20" fill="#fff" font-weight="bold" textLength="19.07" lengthAdjust="spacingAndGlyphs" opacity="0.92">Sonstiges</text>
<rect x="356.30" y="326.70" width="56.50" height="7.30" fill="#06226f"/>
<text x="359.00" y="331.85" font-size="4.20" fill="#fff" font-weight="bold" textLength="34.15" lengthAdjust="spacingAndGlyphs" opacity="0.92">Unwahrscheinlich</text>
<rect x="356.30" y="335.00" width="56.50" height="7.30" fill="#b4a89b"/>
<text x="359.00" y="340.15" font-size="4.20" fill="#fff" font-weight="bold" textLength="29.34" lengthAdjust="spacingAndGlyphs" opacity="0.92">Wahrscheinlich</text>
<rect x="356.30" y="434.30" width="56.50" height="7.40" fill="#06226f"/>
<text x="359.00" y="439.50" font-size="4.20" fill="#fff" font-weight="bold" textLength="8.65" lengthAdjust="spacingAndGlyphs" opacity="0.92">Nein</text>
<rect x="356.30" y="442.70" width="56.50" height="7.40" fill="#b4a89b"/>
<text x="359.00" y="447.90" font-size="4.20" fill="#fff" font-weight="bold" textLength="4.44" lengthAdjust="spacingAndGlyphs" opacity="0.92">Ja</text>
<text x="431.00" y="80.65" font-size="6.10" fill="#12b6ad" font-weight="bold" textLength="19.73" lengthAdjust="spacingAndGlyphs" stroke="#12b6ad" stroke-width="0.22">Teilzeit</text>
<text x="577.30" y="80.65" font-size="6.10" fill="#077ab1" font-weight="bold" text-anchor="end" textLength="20.39" lengthAdjust="spacingAndGlyphs" stroke="#077ab1" stroke-width="0.22">Vollzeit</text>
<rect x="431.00" y="83.65" width="45.65" height="11.70" fill="#0cb5ad"/>
<rect x="476.35" y="83.65" width="100.95" height="11.70" fill="#077ab1"/>
<text x="434.00" y="91.70" font-size="6.10" fill="#eefcfb" font-weight="bold" textLength="11.81" lengthAdjust="spacingAndGlyphs" opacity="0.88" stroke="#eefcfb" stroke-width="0.1">31%</text>
<text x="574.30" y="91.70" font-size="6.10" fill="#ecf6fc" font-weight="bold" text-anchor="end" textLength="11.81" lengthAdjust="spacingAndGlyphs" opacity="0.88" stroke="#ecf6fc" stroke-width="0.1">69%</text>
<text x="504.20" y="100.35" font-size="5.30" fill="#44506e" text-anchor="middle" textLength="78.30" lengthAdjust="spacingAndGlyphs">Handwerklich routinierte Tätigkeiten</text>
<rect x="431.00" y="103.70" width="42.73" height="11.70" fill="#0cb5ad"/>
<rect x="473.43" y="103.70" width="103.87" height="11.70" fill="#077ab1"/>
<text x="434.00" y="111.75" font-size="6.10" fill="#eefcfb" font-weight="bold" textLength="11.81" lengthAdjust="spacingAndGlyphs" opacity="0.88" stroke="#eefcfb" stroke-width="0.1">29%</text>
<text x="574.30" y="111.75" font-size="6.10" fill="#ecf6fc" font-weight="bold" text-anchor="end" textLength="11.81" lengthAdjust="spacingAndGlyphs" opacity="0.88" stroke="#ecf6fc" stroke-width="0.1">71%</text>
<text x="504.20" y="120.40" font-size="5.30" fill="#44506e" text-anchor="middle" textLength="72.30" lengthAdjust="spacingAndGlyphs">Handwerklich kreative Tätigkeiten</text>
<rect x="431.00" y="123.75" width="25.17" height="11.70" fill="#0cb5ad"/>
<rect x="455.87" y="123.75" width="121.43" height="11.70" fill="#077ab1"/>
<text x="434.00" y="131.80" font-size="6.10" fill="#eefcfb" font-weight="bold" textLength="11.81" lengthAdjust="spacingAndGlyphs" opacity="0.88" stroke="#eefcfb" stroke-width="0.1">17%</text>
<text x="574.30" y="131.80" font-size="6.10" fill="#ecf6fc" font-weight="bold" text-anchor="end" textLength="11.81" lengthAdjust="spacingAndGlyphs" opacity="0.88" stroke="#ecf6fc" stroke-width="0.1">83%</text>
<text x="504.20" y="140.45" font-size="5.30" fill="#44506e" text-anchor="middle" textLength="86.60" lengthAdjust="spacingAndGlyphs">Verwaltend-organisatorische Tätigkeiten</text>
<rect x="431.00" y="143.80" width="28.10" height="11.70" fill="#0cb5ad"/>
<rect x="458.80" y="143.80" width="118.50" height="11.70" fill="#077ab1"/>
<text x="434.00" y="151.85" font-size="6.10" fill="#eefcfb" font-weight="bold" textLength="11.81" lengthAdjust="spacingAndGlyphs" opacity="0.88" stroke="#eefcfb" stroke-width="0.1">19%</text>
<text x="574.30" y="151.85" font-size="6.10" fill="#ecf6fc" font-weight="bold" text-anchor="end" textLength="11.81" lengthAdjust="spacingAndGlyphs" opacity="0.88" stroke="#ecf6fc" stroke-width="0.1">81%</text>
<text x="504.20" y="160.50" font-size="5.30" fill="#44506e" text-anchor="middle" textLength="59.00" lengthAdjust="spacingAndGlyphs">Geistig-kreative Tätigkeiten</text>
<text x="431.00" y="187.95" font-size="6.10" fill="#12b6ad" font-weight="bold" textLength="38.35" lengthAdjust="spacingAndGlyphs" stroke="#12b6ad" stroke-width="0.22">Nicht besorgt</text>
<text x="577.30" y="187.95" font-size="6.10" fill="#077ab1" font-weight="bold" text-anchor="end" textLength="22.48" lengthAdjust="spacingAndGlyphs" stroke="#077ab1" stroke-width="0.22">Besorgt</text>
<rect x="431.00" y="190.95" width="126.12" height="11.70" fill="#0cb5ad"/>
<rect x="556.82" y="190.95" width="20.48" height="11.70" fill="#077ab1"/>
<text x="434.00" y="199.00" font-size="6.10" fill="#eefcfb" font-weight="bold" textLength="11.81" lengthAdjust="spacingAndGlyphs" opacity="0.88" stroke="#eefcfb" stroke-width="0.1">86%</text>
<text x="574.30" y="199.00" font-size="6.10" fill="#ecf6fc" font-weight="bold" text-anchor="end" textLength="11.81" lengthAdjust="spacingAndGlyphs" opacity="0.88" stroke="#ecf6fc" stroke-width="0.1">14%</text>
<text x="504.20" y="207.65" font-size="5.30" fill="#44506e" text-anchor="middle" textLength="78.30" lengthAdjust="spacingAndGlyphs">Handwerklich routinierte Tätigkeiten</text>
<rect x="431.00" y="211.00" width="111.49" height="11.70" fill="#0cb5ad"/>
<rect x="542.19" y="211.00" width="35.11" height="11.70" fill="#077ab1"/>
<text x="434.00" y="219.05" font-size="6.10" fill="#eefcfb" font-weight="bold" textLength="11.81" lengthAdjust="spacingAndGlyphs" opacity="0.88" stroke="#eefcfb" stroke-width="0.1">76%</text>
<text x="574.30" y="219.05" font-size="6.10" fill="#ecf6fc" font-weight="bold" text-anchor="end" textLength="11.81" lengthAdjust="spacingAndGlyphs" opacity="0.88" stroke="#ecf6fc" stroke-width="0.1">24%</text>
<text x="504.20" y="227.70" font-size="5.30" fill="#44506e" text-anchor="middle" textLength="72.30" lengthAdjust="spacingAndGlyphs">Handwerklich kreative Tätigkeiten</text>
<rect x="431.00" y="231.05" width="134.90" height="11.70" fill="#0cb5ad"/>
<rect x="565.60" y="231.05" width="11.70" height="11.70" fill="#077ab1"/>
<text x="434.00" y="239.10" font-size="6.10" fill="#eefcfb" font-weight="bold" textLength="11.81" lengthAdjust="spacingAndGlyphs" opacity="0.88" stroke="#eefcfb" stroke-width="0.1">92%</text>
<text x="574.30" y="239.10" font-size="6.10" fill="#ecf6fc" font-weight="bold" text-anchor="end" textLength="8.53" lengthAdjust="spacingAndGlyphs" opacity="0.88" stroke="#ecf6fc" stroke-width="0.1">8%</text>
<text x="504.20" y="247.75" font-size="5.30" fill="#44506e" text-anchor="middle" textLength="86.60" lengthAdjust="spacingAndGlyphs">Verwaltend-organisatorische Tätigkeiten</text>
<rect x="431.00" y="251.10" width="131.97" height="11.70" fill="#0cb5ad"/>
<rect x="562.67" y="251.10" width="14.63" height="11.70" fill="#077ab1"/>
<text x="434.00" y="259.15" font-size="6.10" fill="#eefcfb" font-weight="bold" textLength="11.81" lengthAdjust="spacingAndGlyphs" opacity="0.88" stroke="#eefcfb" stroke-width="0.1">90%</text>
<text x="574.30" y="259.15" font-size="6.10" fill="#ecf6fc" font-weight="bold" text-anchor="end" textLength="11.81" lengthAdjust="spacingAndGlyphs" opacity="0.88" stroke="#ecf6fc" stroke-width="0.1">10%</text>
<text x="504.20" y="267.80" font-size="5.30" fill="#44506e" text-anchor="middle" textLength="59.00" lengthAdjust="spacingAndGlyphs">Geistig-kreative Tätigkeiten</text>
<text x="431.00" y="295.30" font-size="6.10" fill="#12b6ad" font-weight="bold" textLength="50.92" lengthAdjust="spacingAndGlyphs" stroke="#12b6ad" stroke-width="0.22">Unwahrscheinlich</text>
<text x="577.30" y="295.30" font-size="6.10" fill="#077ab1" font-weight="bold" text-anchor="end" textLength="43.75" lengthAdjust="spacingAndGlyphs" stroke="#077ab1" stroke-width="0.22">Wahrscheinlich</text>
<rect x="431.00" y="298.30" width="74.91" height="11.70" fill="#0cb5ad"/>
<rect x="505.61" y="298.30" width="71.69" height="11.70" fill="#077ab1"/>
<text x="434.00" y="306.35" font-size="6.10" fill="#eefcfb" font-weight="bold" textLength="11.81" lengthAdjust="spacingAndGlyphs" opacity="0.88" stroke="#eefcfb" stroke-width="0.1">51%</text>
<text x="574.30" y="306.35" font-size="6.10" fill="#ecf6fc" font-weight="bold" text-anchor="end" textLength="11.81" lengthAdjust="spacingAndGlyphs" opacity="0.88" stroke="#ecf6fc" stroke-width="0.1">49%</text>
<text x="504.20" y="315.00" font-size="5.30" fill="#44506e" text-anchor="middle" textLength="78.30" lengthAdjust="spacingAndGlyphs">Handwerklich routinierte Tätigkeiten</text>
<rect x="431.00" y="318.35" width="57.36" height="11.70" fill="#0cb5ad"/>
<rect x="488.06" y="318.35" width="89.24" height="11.70" fill="#077ab1"/>
<text x="434.00" y="326.40" font-size="6.10" fill="#eefcfb" font-weight="bold" textLength="11.81" lengthAdjust="spacingAndGlyphs" opacity="0.88" stroke="#eefcfb" stroke-width="0.1">39%</text>
<text x="574.30" y="326.40" font-size="6.10" fill="#ecf6fc" font-weight="bold" text-anchor="end" textLength="11.81" lengthAdjust="spacingAndGlyphs" opacity="0.88" stroke="#ecf6fc" stroke-width="0.1">61%</text>
<text x="504.20" y="335.05" font-size="5.30" fill="#44506e" text-anchor="middle" textLength="72.30" lengthAdjust="spacingAndGlyphs">Handwerklich kreative Tätigkeiten</text>
<rect x="431.00" y="338.40" width="64.67" height="11.70" fill="#0cb5ad"/>
<rect x="495.37" y="338.40" width="81.93" height="11.70" fill="#077ab1"/>
<text x="434.00" y="346.45" font-size="6.10" fill="#eefcfb" font-weight="bold" textLength="11.81" lengthAdjust="spacingAndGlyphs" opacity="0.88" stroke="#eefcfb" stroke-width="0.1">44%</text>
<text x="574.30" y="346.45" font-size="6.10" fill="#ecf6fc" font-weight="bold" text-anchor="end" textLength="11.81" lengthAdjust="spacingAndGlyphs" opacity="0.88" stroke="#ecf6fc" stroke-width="0.1">56%</text>
<text x="504.20" y="355.10" font-size="5.30" fill="#44506e" text-anchor="middle" textLength="86.60" lengthAdjust="spacingAndGlyphs">Verwaltend-organisatorische Tätigkeiten</text>
<rect x="431.00" y="358.45" width="55.89" height="11.70" fill="#0cb5ad"/>
<rect x="486.59" y="358.45" width="90.71" height="11.70" fill="#077ab1"/>
<text x="434.00" y="366.50" font-size="6.10" fill="#eefcfb" font-weight="bold" textLength="11.81" lengthAdjust="spacingAndGlyphs" opacity="0.88" stroke="#eefcfb" stroke-width="0.1">38%</text>
<text x="574.30" y="366.50" font-size="6.10" fill="#ecf6fc" font-weight="bold" text-anchor="end" textLength="11.81" lengthAdjust="spacingAndGlyphs" opacity="0.88" stroke="#ecf6fc" stroke-width="0.1">62%</text>
<text x="504.20" y="375.15" font-size="5.30" fill="#44506e" text-anchor="middle" textLength="59.00" lengthAdjust="spacingAndGlyphs">Geistig-kreative Tätigkeiten</text>
<rect x="431.00" y="399.85" width="19.95" height="12.10" fill="#0cb5ad"/>
<rect x="450.95" y="399.85" width="62.51" height="12.10" fill="#e6e9ee"/>
<rect x="513.46" y="399.85" width="43.89" height="12.10" fill="#06226f"/>
<rect x="557.35" y="399.85" width="6.66" height="12.10" fill="#077ab1"/>
<text x="433.40" y="408.10" font-size="6.10" fill="#eefcfb" font-weight="bold" textLength="11.81" lengthAdjust="spacingAndGlyphs" opacity="0.88" stroke="#eefcfb" stroke-width="0.1">15%</text>
<text x="452.35" y="408.20" font-size="6.60" fill="#26305c" font-weight="bold" textLength="12.61" lengthAdjust="spacingAndGlyphs" stroke="#26305c" stroke-width="0.25">47%</text>
<text x="515.26" y="408.20" font-size="6.60" fill="#ffffff" font-weight="bold" textLength="12.61" lengthAdjust="spacingAndGlyphs" stroke="#ffffff" stroke-width="0.2">33%</text>
<text x="565.70" y="408.20" font-size="6.60" fill="#0b80b2" font-weight="bold" textLength="8.53" lengthAdjust="spacingAndGlyphs" stroke="#0b80b2" stroke-width="0.25">5%</text>
<text x="497.50" y="417.45" font-size="5.30" fill="#44506e" text-anchor="middle" textLength="78.30" lengthAdjust="spacingAndGlyphs">Handwerklich routinierte Tätigkeiten</text>
<rect x="431.00" y="421.02" width="17.29" height="12.10" fill="#0cb5ad"/>
<rect x="448.29" y="421.02" width="63.84" height="12.10" fill="#e6e9ee"/>
<rect x="512.13" y="421.02" width="45.22" height="12.10" fill="#06226f"/>
<rect x="557.35" y="421.02" width="6.66" height="12.10" fill="#077ab1"/>
<text x="433.40" y="429.27" font-size="6.10" fill="#eefcfb" font-weight="bold" textLength="11.81" lengthAdjust="spacingAndGlyphs" opacity="0.88" stroke="#eefcfb" stroke-width="0.1">13%</text>
<text x="449.69" y="429.37" font-size="6.60" fill="#26305c" font-weight="bold" textLength="12.61" lengthAdjust="spacingAndGlyphs" stroke="#26305c" stroke-width="0.25">48%</text>
<text x="513.93" y="429.37" font-size="6.60" fill="#ffffff" font-weight="bold" textLength="12.61" lengthAdjust="spacingAndGlyphs" stroke="#ffffff" stroke-width="0.2">34%</text>
<text x="565.70" y="429.37" font-size="6.60" fill="#0b80b2" font-weight="bold" textLength="8.53" lengthAdjust="spacingAndGlyphs" stroke="#0b80b2" stroke-width="0.25">5%</text>
<text x="497.50" y="438.62" font-size="5.30" fill="#44506e" text-anchor="middle" textLength="72.30" lengthAdjust="spacingAndGlyphs">Handwerklich kreative Tätigkeiten</text>
<rect x="431.00" y="442.19" width="11.97" height="12.10" fill="#0cb5ad"/>
<rect x="442.97" y="442.19" width="61.18" height="12.10" fill="#e6e9ee"/>
<rect x="504.15" y="442.19" width="55.86" height="12.10" fill="#06226f"/>
<rect x="560.01" y="442.19" width="4.00" height="12.10" fill="#077ab1"/>
<text x="433.40" y="450.44" font-size="6.10" fill="#eefcfb" font-weight="bold" textLength="8.53" lengthAdjust="spacingAndGlyphs" opacity="0.88" stroke="#eefcfb" stroke-width="0.1">9%</text>
<text x="444.37" y="450.54" font-size="6.60" fill="#26305c" font-weight="bold" textLength="12.61" lengthAdjust="spacingAndGlyphs" stroke="#26305c" stroke-width="0.25">46%</text>
<text x="505.95" y="450.54" font-size="6.60" fill="#ffffff" font-weight="bold" textLength="12.61" lengthAdjust="spacingAndGlyphs" stroke="#ffffff" stroke-width="0.2">42%</text>
<text x="565.70" y="450.54" font-size="6.60" fill="#0b80b2" font-weight="bold" textLength="8.53" lengthAdjust="spacingAndGlyphs" stroke="#0b80b2" stroke-width="0.25">3%</text>
<text x="497.50" y="459.79" font-size="5.30" fill="#44506e" text-anchor="middle" textLength="86.60" lengthAdjust="spacingAndGlyphs">Verwaltend-organisatorische Tätigkeiten</text>
<rect x="431.00" y="463.36" width="14.63" height="12.10" fill="#0cb5ad"/>
<rect x="445.63" y="463.36" width="57.19" height="12.10" fill="#e6e9ee"/>
<rect x="502.82" y="463.36" width="58.52" height="12.10" fill="#06226f"/>
<rect x="561.34" y="463.36" width="2.67" height="12.10" fill="#077ab1"/>
<text x="433.40" y="471.61" font-size="6.10" fill="#eefcfb" font-weight="bold" textLength="11.48" lengthAdjust="spacingAndGlyphs" opacity="0.88" stroke="#eefcfb" stroke-width="0.1">11%</text>
<text x="447.03" y="471.71" font-size="6.60" fill="#26305c" font-weight="bold" textLength="12.61" lengthAdjust="spacingAndGlyphs" stroke="#26305c" stroke-width="0.25">43%</text>
<text x="504.62" y="471.71" font-size="6.60" fill="#ffffff" font-weight="bold" textLength="12.61" lengthAdjust="spacingAndGlyphs" stroke="#ffffff" stroke-width="0.2">44%</text>
<text x="565.70" y="471.71" font-size="6.60" fill="#0b80b2" font-weight="bold" textLength="8.53" lengthAdjust="spacingAndGlyphs" stroke="#0b80b2" stroke-width="0.25">3%</text>
<text x="497.50" y="480.96" font-size="5.30" fill="#44506e" text-anchor="middle" textLength="59.00" lengthAdjust="spacingAndGlyphs">Geistig-kreative Tätigkeiten</text>
<rect x="581.00" y="419.70" width="42.60" height="8.20" fill="#0cb5ad"/>
<text x="583.70" y="425.30" font-size="4.60" fill="#fff" textLength="34.48" lengthAdjust="spacingAndGlyphs" opacity="0.8">Verschlechterung</text>
<rect x="581.00" y="428.90" width="42.60" height="7.60" fill="#f1f3f5"/>
<text x="583.70" y="434.20" font-size="4.60" fill="#26305c" font-weight="bold" textLength="39.83" lengthAdjust="spacingAndGlyphs">Keine Veränderung</text>
<rect x="581.00" y="437.10" width="42.60" height="7.90" fill="#06226f"/>
<text x="583.70" y="442.55" font-size="4.60" fill="#fff" textLength="27.54" lengthAdjust="spacingAndGlyphs" opacity="0.8">Verbesserung</text>
<rect x="581.00" y="446.00" width="42.60" height="8.00" fill="#077ab1"/>
<text x="583.70" y="451.50" font-size="4.60" fill="#fff" textLength="20.99" lengthAdjust="spacingAndGlyphs" opacity="0.8">Weiß nicht</text>
</g>
</svg>
</body></html>
